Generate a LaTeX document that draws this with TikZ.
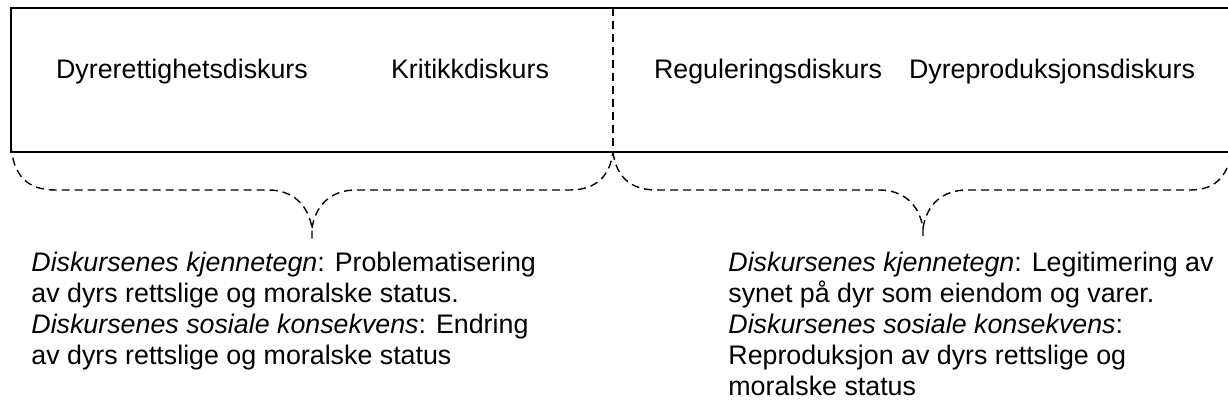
\documentclass[tikz,border=0pt]{standalone}
\usepackage{fontspec}
\setmainfont{Liberation Sans}
\usetikzlibrary{calc}

\begin{document}
\begin{tikzpicture}[x=0.5pt, y=-0.5pt,
		frame/.style={line width=1pt},
		dsh/.style={line width=0.7pt, dash pattern=on 4pt off 2.5pt},
		lbl/.style={anchor=base, inner sep=0pt, font=\fontsize{13.4}{15.5}\selectfont},
		note/.style={anchor=base west, inner sep=0pt, align=left, font=\fontsize{13.4}{15.5}\selectfont}]
		\useasboundingbox (0,0) rectangle (1228,415);
		% box and divider
		\draw [frame] (1228,8) -- (11,8) -- (11,152) -- (1228,152);
		\draw [dsh] (613,8) -- (613,152);
		% discourse labels
		\node [lbl] (rett) at (182,79) {Dyrerettighetsdiskurs};
		\node [lbl] (krit) at (470,79) {Kritikkdiskurs};
		\node [lbl] (reg) at (768,79) {Reguleringsdiskurs};
		\node [lbl] (prod) at (1052,79) {Dyreproduksjonsdiskurs};
		% braces
		\draw [dsh] (11,145) .. controls (13,176) and (28,190) .. (55,190) -- (268,190) .. controls (292,190) and (308,204) .. (312,228) -- (312,240)
			(312,228) .. controls (316,204) and (332,190) .. (356,190) -- (570,190) .. controls (596,190) and (610,176) .. (613,152);
		\draw [dsh] (613,152) .. controls (616,176) and (630,190) .. (656,190) -- (879,190) .. controls (903,190) and (919,204) .. (923,228) -- (923,240)
			(923,228) .. controls (927,204) and (943,190) .. (967,190) -- (1190,190) .. controls (1212,190) and (1224,180) .. (1230,160);
		% notes (anchored at the last line)
		\node [note] (venstre) at (31,365) {\textit{Diskursenes kjennetegn}: Problematisering\\av dyrs rettslige og moralske status.\\\textit{Diskursenes sosiale konsekvens}: Endring\\av dyrs rettslige og moralske status};
		\node [note] (hoyre) at (728,396) {\textit{Diskursenes kjennetegn}: Legitimering av\\synet på dyr som eiendom og varer.\\\textit{Diskursenes sosiale konsekvens}:\\Reproduksjon av dyrs rettslige og\\moralske status};
\end{tikzpicture}
\end{document}
